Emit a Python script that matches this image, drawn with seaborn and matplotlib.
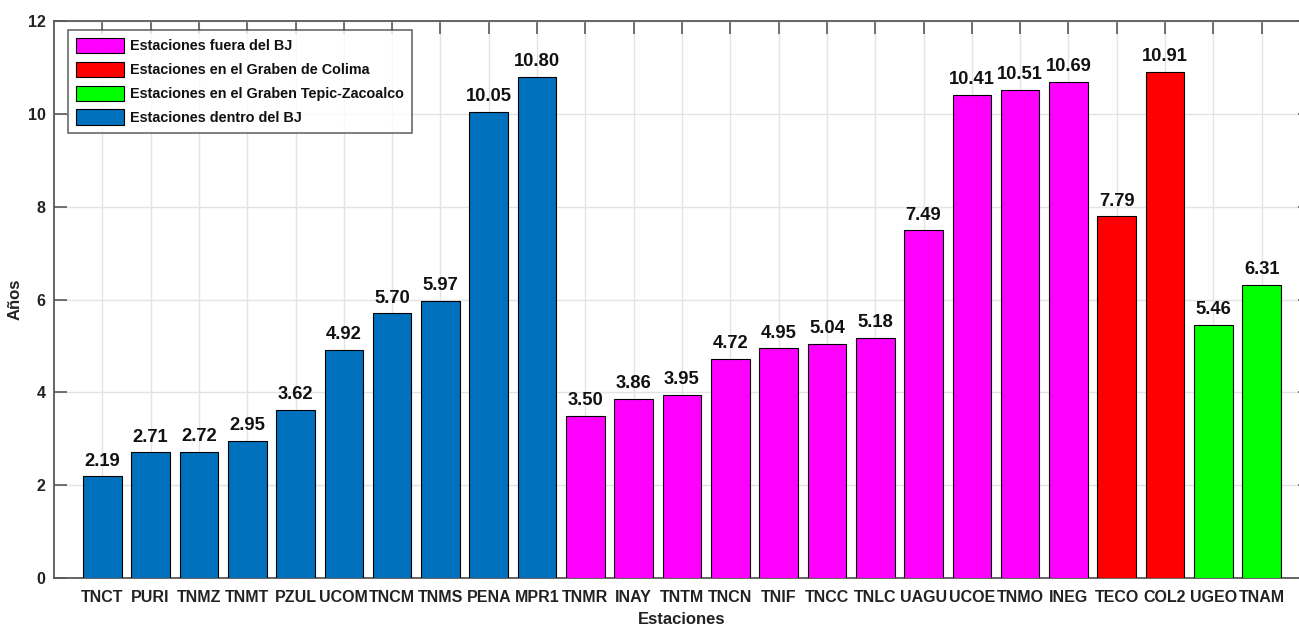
import matplotlib
matplotlib.use("Agg")
import matplotlib.pyplot as plt
from matplotlib.patches import Patch
import seaborn as sns
import pandas as pd

stations = ["TNCT", "PURI", "TNMZ", "TNMT", "PZUL", "UCOM", "TNCM", "TNMS", "PENA", "MPR1",
            "TNMR", "INAY", "TNTM", "TNCN", "TNIF", "TNCC", "TNLC", "UAGU", "UCOE", "TNMO", "INEG",
            "TECO", "COL2", "UGEO", "TNAM"]
years = [2.19, 2.71, 2.72, 2.95, 3.62, 4.92, 5.70, 5.97, 10.05, 10.80,
         3.50, 3.86, 3.95, 4.72, 4.95, 5.04, 5.18, 7.49, 10.41, 10.51, 10.69,
         7.79, 10.91, 5.46, 6.31]
groups = ["Estaciones dentro del BJ"] * 10 + ["Estaciones fuera del BJ"] * 11 + \
         ["Estaciones en el Graben de Colima"] * 2 + ["Estaciones en el Graben Tepic-Zacoalco"] * 2
group_order = ["Estaciones fuera del BJ", "Estaciones en el Graben de Colima",
               "Estaciones en el Graben Tepic-Zacoalco", "Estaciones dentro del BJ"]
group_colors = ["#FF00FF", "#FF0000", "#00FF00", "#0072BD"]
yticks = [0, 2, 4, 6, 8, 10, 12]

df = pd.DataFrame({"Estaciones": stations, "Años": years, "grupo": groups})

sns.set_theme(style="white")
plt.rcParams["font.family"] = ["Liberation Sans", "DejaVu Sans"]
plt.rcParams["font.weight"] = "bold"

fig = plt.figure(figsize=(12.99, 6.25), dpi=100)
ax = fig.add_axes([54 / 1299, 47 / 625, 1256 / 1299, 557 / 625])

palette = dict(zip(group_order, group_colors))
sns.barplot(data=df, x="Estaciones", y="Años", hue="grupo", hue_order=group_order,
            palette=palette, dodge=False, width=0.8, saturation=1, legend=False,
            edgecolor="black", linewidth=0.8, ax=ax, zorder=3)

for i, v in enumerate(years):
    ax.text(i, v + 0.23, f"{v:.2f}", ha="center", va="baseline",
            fontsize=13.2, fontweight="bold", color="#111111", zorder=4)

ax.set_xlim(-1, len(stations))
ax.set_ylim(0, 12)
ax.set_yticks(yticks)
ax.set_yticklabels([str(t) for t in yticks])
ax.set_xticks(range(len(stations)))
ax.set_xticklabels(stations)

ax.grid(True, axis="both", color="#E3E3E3", linewidth=1.0, zorder=0)
ax.set_axisbelow(True)
for s in ax.spines.values():
    s.set_visible(True)
    s.set_color("#595959")
    s.set_linewidth(1.3)

ax.tick_params(axis="both", direction="in", length=9, width=1.2, color="#595959",
               top=True, right=True, bottom=True, left=True,
               labelsize=11.5, labelcolor="#222222")
ax.tick_params(axis="x", pad=9)
ax.tick_params(axis="y", pad=6)
for lbl in ax.get_xticklabels() + ax.get_yticklabels():
    lbl.set_fontweight("bold")

ax.set_xlabel("Estaciones", fontsize=12, fontweight="bold", color="#222222", labelpad=5)
ax.set_ylabel("Años", fontsize=12, fontweight="bold", color="#222222", labelpad=4)

handles = [Patch(facecolor=c, edgecolor="black", linewidth=0.8) for c in group_colors]
leg = ax.legend(handles, group_order, loc="upper left", bbox_to_anchor=(0.011, 0.984),
                fontsize=10.4, frameon=True, fancybox=False, handlelength=3.35, handleheight=1.25,
                borderpad=0.55, labelspacing=0.58, handletextpad=0.42, borderaxespad=0)
leg.get_frame().set_edgecolor("#444444")
leg.get_frame().set_linewidth(1.2)
for t in leg.get_texts():
    t.set_fontweight("bold")
    t.set_color("#111111")
leg.set_zorder(5)

fig.savefig("out.png", dpi=100)
